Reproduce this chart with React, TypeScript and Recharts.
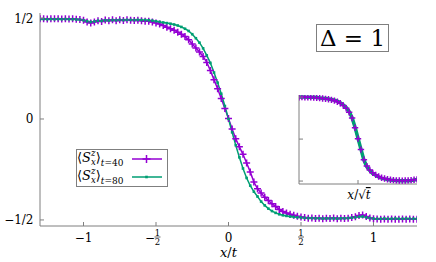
import React from "react";
import { LineChart, Line, XAxis, YAxis, Legend } from "recharts";

const PURPLE = "#9400d3";
const GREEN = "#009e73";
const AXIS = "#7f7f7f";
const SERIF = "'DejaVu Serif', serif";
const TXT: React.CSSProperties = { fontFamily: SERIF };

// main panel: x/t on a 1/40 lattice step
const mainStart = -1.3;
const mainStep = 0.025;

const sz40 = [
  0.496, 0.497, 0.495, 0.497, 0.496, 0.497, 0.495, 0.496, 0.495, 0.496,
  0.494, 0.493, 0.489, 0.481, 0.476, 0.48, 0.487, 0.483, 0.49, 0.486,
  0.491, 0.487, 0.492, 0.488, 0.491, 0.489, 0.488, 0.489, 0.486, 0.484,
  0.484, 0.48, 0.476, 0.47, 0.463, 0.455, 0.447, 0.44, 0.43, 0.42,
  0.408, 0.392, 0.372, 0.352, 0.332, 0.31, 0.28, 0.24, 0.195, 0.15,
  0.102, 0.052, 0.002, -0.05, -0.098, -0.138, -0.175, -0.218, -0.262, -0.312,
  -0.345, -0.367, -0.387, -0.404, -0.42, -0.433, -0.448, -0.458, -0.466, -0.472,
  -0.477, -0.482, -0.485, -0.488, -0.491, -0.49, -0.493, -0.491, -0.494, -0.492,
  -0.493, -0.49, -0.494, -0.492, -0.493, -0.491, -0.488, -0.484, -0.478, -0.476,
  -0.483, -0.49, -0.494, -0.495, -0.496, -0.495, -0.496, -0.495, -0.496, -0.496,
  -0.495, -0.496, -0.495, -0.496, -0.496,
];

const sz80 = [
  0.494, 0.495, 0.494, 0.495, 0.494, 0.495, 0.494, 0.495, 0.494, 0.494,
  0.493, 0.492, 0.489, 0.484, 0.481, 0.483, 0.487, 0.486, 0.489, 0.488,
  0.49, 0.489, 0.491, 0.49, 0.491, 0.491, 0.49, 0.491, 0.49, 0.49,
  0.489, 0.487, 0.484, 0.481, 0.478, 0.475, 0.472, 0.468, 0.463, 0.456,
  0.447, 0.436, 0.42, 0.4, 0.378, 0.35, 0.315, 0.278, 0.23, 0.18,
  0.125, 0.064, 0.0, -0.066, -0.13, -0.19, -0.245, -0.292, -0.33, -0.36,
  -0.384, -0.409, -0.428, -0.444, -0.456, -0.465, -0.472, -0.477, -0.48, -0.483,
  -0.485, -0.487, -0.488, -0.49, -0.491, -0.491, -0.492, -0.492, -0.493, -0.492,
  -0.493, -0.492, -0.493, -0.492, -0.492, -0.491, -0.489, -0.487, -0.484, -0.483,
  -0.487, -0.491, -0.493, -0.494, -0.494, -0.493, -0.494, -0.494, -0.493, -0.494,
  -0.494, -0.493, -0.494, -0.494, -0.494,
];

// inset: x/sqrt(t)
const insetStart = -4;
const insetStep = 0.2;

const inset40 = [
  0.498, 0.5, 0.499, 0.497, 0.497, 0.495, 0.492, 0.488, 0.484, 0.479,
  0.474, 0.467, 0.458, 0.445, 0.426, 0.4, 0.366, 0.32, 0.25, 0.135,
  0.005, -0.125, -0.245, -0.322, -0.368, -0.402, -0.426, -0.446, -0.46, -0.47,
  -0.478, -0.484, -0.489, -0.492, -0.494, -0.495, -0.494, -0.492, -0.489, -0.485,
  -0.48,
];

const inset80 = [
  0.5, 0.502, 0.5, 0.499, 0.498, 0.497, 0.494, 0.49, 0.486, 0.482,
  0.478, 0.472, 0.464, 0.452, 0.434, 0.408, 0.376, 0.33, 0.255, 0.14,
  0.01, -0.12, -0.25, -0.33, -0.375, -0.41, -0.432, -0.452, -0.465, -0.474,
  -0.481, -0.487, -0.491, -0.494, -0.496, -0.497, -0.497, -0.495, -0.492, -0.488,
  -0.482,
];

const xTicks = [-1, -0.5, 0, 0.5, 1];
const yTicks = [-0.5, 0, 0.5];
const yTickText: Record<string, string> = { "-0.5": "\u22121/2", "0": "0", "0.5": "1/2" };

const mainData = sz40.map((v, i) => ({ x: mainStart + i * mainStep, p: v, g: sz80[i] }));
const insetData = inset40.map((v, i) => ({ u: insetStart + i * insetStep, p: v, g: inset80[i] }));

const plusDot = (size: number) => (props: any) => {
  const { cx, cy, index } = props;
  if (cx == null || cy == null) return <g key={index} />;
  return (
    <path
      key={index}
      d={`M${cx - size},${cy}h${2 * size}M${cx},${cy - size}v${2 * size}`}
      stroke={PURPLE}
      strokeWidth={1.5}
      fill="none"
    />
  );
};

const squareDot = (props: any) => {
  const { cx, cy, index } = props;
  if (cx == null || cy == null) return <g key={index} />;
  return <rect key={index} x={cx - 1.3} y={cy - 1.3} width={2.6} height={2.6} fill={GREEN} />;
};

function BottomTick({ x, y, payload, bare }: any) {
  const v = payload.value;
  let label: React.ReactNode = null;
  if (!bare) {
    if (Math.abs(v) === 0.5) {
      const fx = x + (v < 0 ? 1.5 : 0);
      label = (
        <g fill="#000">
          {v < 0 && (
            <text x={x - 6} y={y + 15.5} fontSize={12} textAnchor="middle" style={TXT}>
              {"\u2212"}
            </text>
          )}
          <text x={fx} y={y + 9.5} fontSize={8.5} textAnchor="middle" style={TXT}>1</text>
          <line x1={fx - 3} x2={fx + 3} y1={y + 11} y2={y + 11} stroke="#000" strokeWidth={0.6} />
          <text x={fx} y={y + 19} fontSize={8.5} textAnchor="middle" style={TXT}>2</text>
        </g>
      );
    } else {
      label = (
        <text x={x} y={y + 15.5} fontSize={12} style={TXT} textAnchor="middle" fill="#000">
          {v < 0 ? `\u2212${-v}` : `${v}`}
        </text>
      );
    }
  }
  return (
    <g>
      <line x1={x} x2={x} y1={y} y2={y - 4} stroke={AXIS} />
      {label}
    </g>
  );
}

function TopTick({ x, y }: any) {
  return <line x1={x} x2={x} y1={y} y2={y + 4} stroke={AXIS} />;
}

function LeftTick({ x, y, payload, bare }: any) {
  return (
    <g>
      <line x1={x} x2={x + 4} y1={y} y2={y} stroke={AXIS} />
      {!bare && (
        <text x={x - 6.5} y={y + 4.5} fontSize={12} style={TXT} textAnchor="end" fill="#000">
          {yTickText[String(payload.value)]}
        </text>
      )}
    </g>
  );
}

function RightTick({ x, y }: any) {
  return <line x1={x} x2={x - 4} y1={y} y2={y} stroke={AXIS} />;
}

function KeyRow({ y, t, dot }: { y: number; t: string; dot: React.ReactNode }) {
  return (
    <g>
      <text x={1} y={y + 2} style={TXT} fontSize={13} fill="#000">
        {"\u27e8"}
        <tspan fontStyle="italic">S</tspan>
        <tspan fontSize={8.5} fontStyle="italic" dy={-6}>z</tspan>
        <tspan fontSize={8.5} fontStyle="italic" dx={-4.5} dy={9}>x</tspan>
        <tspan dy={-3}>{"\u27e9"}</tspan>
        <tspan fontSize={9} dy={4}>
          <tspan fontStyle="italic">t</tspan>
          {`=${t}`}
        </tspan>
      </text>
      {dot}
    </g>
  );
}

function SeriesKey() {
  return (
    <svg width={92} height={38} style={{ display: "block" }}>
      <rect x={0.5} y={0.5} width={91} height={37} fill="#fff" stroke={AXIS} />
      <KeyRow
        y={11}
        t="40"
        dot={
          <g>
            <line x1={56} x2={86} y1={10} y2={10} stroke={PURPLE} strokeWidth={1.5} />
            <path d="M70.5,6v8M66.5,10h8" stroke={PURPLE} strokeWidth={1.5} />
          </g>
        }
      />
      <KeyRow
        y={29}
        t="80"
        dot={
          <g>
            <line x1={56} x2={86} y1={28} y2={28} stroke={GREEN} strokeWidth={1.5} />
            <rect x={69.2} y={26.7} width={2.6} height={2.6} fill={GREEN} />
          </g>
        }
      />
    </svg>
  );
}

const mainXLabel = (props: any) => {
  const vb = props.viewBox;
  return (
    <text x={vb.x + vb.width / 2} y={vb.y + 31} textAnchor="middle" style={TXT} fontSize={13} fill="#000">
      <tspan fontStyle="italic">x</tspan>/<tspan fontStyle="italic">t</tspan>
    </text>
  );
};

const insetXLabel = (props: any) => {
  const vb = props.viewBox;
  return (
    <text x={vb.x + vb.width / 2 + 1} y={vb.y + 15} textAnchor="middle" style={TXT} fontSize={12} fill="#000">
      <tspan fontStyle="italic">x</tspan>/{"\u221a"}
      <tspan fontStyle="italic" style={{ textDecoration: "overline" }}>t</tspan>
    </text>
  );
};

export default function App() {
  return (
    <div style={{ position: "fixed", left: 0, top: 0, width: 436, height: 262, background: "#fff" }}>
      <LineChart width={436} height={262} data={mainData} margin={{ top: 13, right: 19, bottom: 0, left: 0 }}>
        <XAxis
          dataKey="x"
          type="number"
          domain={[-1.3, 1.3]}
          ticks={xTicks}
          interval={0}
          allowDataOverflow
          height={36}
          tickSize={0}
          tickMargin={0}
          tickLine={false}
          axisLine={{ stroke: AXIS }}
          tick={(p: any) => <BottomTick {...p} />}
          label={mainXLabel}
        />
        <XAxis
          xAxisId="top"
          orientation="top"
          dataKey="x"
          type="number"
          domain={[-1.3, 1.3]}
          ticks={xTicks}
          interval={0}
          allowDataOverflow
          height={0}
          tickSize={0}
          tickMargin={0}
          tickLine={false}
          axisLine={{ stroke: AXIS }}
          tick={(p: any) => <TopTick {...p} />}
        />
        <YAxis
          type="number"
          domain={[-0.53, 0.525]}
          ticks={yTicks}
          interval={0}
          allowDataOverflow
          width={40}
          tickSize={0}
          tickMargin={0}
          tickLine={false}
          axisLine={{ stroke: AXIS }}
          tick={(p: any) => <LeftTick {...p} />}
        />
        <YAxis
          yAxisId="right"
          orientation="right"
          type="number"
          domain={[-0.53, 0.525]}
          ticks={yTicks}
          interval={0}
          allowDataOverflow
          width={0}
          tickSize={0}
          tickMargin={0}
          tickLine={false}
          axisLine={{ stroke: AXIS }}
          tick={(p: any) => <RightTick {...p} />}
        />
        <Legend
          layout="vertical"
          align="center"
          verticalAlign="middle"
          wrapperStyle={{ left: 76, top: 149, width: 92, height: 38 }}
          content={() => <SeriesKey />}
        />
        <Line
          type="linear"
          dataKey="p"
          stroke={PURPLE}
          strokeWidth={1.5}
          dot={plusDot(3.5)}
          activeDot={false}
          isAnimationActive={false}
        />
        <Line
          type="linear"
          dataKey="g"
          stroke={GREEN}
          strokeWidth={1.5}
          dot={squareDot}
          activeDot={false}
          isAnimationActive={false}
        />
      </LineChart>

      <div style={{ position: "absolute", left: 287, top: 89 }}>
        <LineChart width={142} height={120} data={insetData} margin={{ top: 6, right: 12, bottom: 0, left: 0 }}>
          <XAxis
            dataKey="u"
            type="number"
            domain={[-4, 4]}
            ticks={[0]}
            interval={0}
            allowDataOverflow
            height={25}
            tickSize={0}
            tickMargin={0}
            tickLine={false}
            axisLine={{ stroke: AXIS }}
            tick={(p: any) => <BottomTick {...p} bare />}
            label={insetXLabel}
          />
          <XAxis
            xAxisId="top"
            orientation="top"
            dataKey="u"
            type="number"
            domain={[-4, 4]}
            ticks={[0]}
            interval={0}
            allowDataOverflow
            height={0}
            tickSize={0}
            tickMargin={0}
            tickLine={false}
            axisLine={{ stroke: AXIS }}
            tick={(p: any) => <TopTick {...p} />}
          />
          <YAxis
            type="number"
            domain={[-0.535, 0.525]}
            ticks={yTicks}
            interval={0}
            allowDataOverflow
            width={12}
            tickSize={0}
            tickMargin={0}
            tickLine={false}
            axisLine={{ stroke: AXIS }}
            tick={(p: any) => <LeftTick {...p} bare />}
          />
          <YAxis
            yAxisId="right"
            orientation="right"
            type="number"
            domain={[-0.535, 0.525]}
            ticks={yTicks}
            interval={0}
            allowDataOverflow
            width={0}
            tickSize={0}
            tickMargin={0}
            tickLine={false}
            axisLine={{ stroke: AXIS }}
            tick={(p: any) => <RightTick {...p} />}
          />
          <Line
            type="linear"
            dataKey="p"
            stroke={PURPLE}
            strokeWidth={2}
            dot={plusDot(3.2)}
            activeDot={false}
            isAnimationActive={false}
          />
          <Line
            type="linear"
            dataKey="g"
            stroke={GREEN}
            strokeWidth={3.5}
            dot={false}
            activeDot={false}
            isAnimationActive={false}
          />
        </LineChart>
      </div>

      <svg width={436} height={262} style={{ position: "absolute", left: 0, top: 0, pointerEvents: "none" }}>
        <rect x={316.5} y={24.5} width={72} height={27} fill="#fff" stroke={AXIS} />
        <text x={352.5} y={46} textAnchor="middle" style={TXT} fontSize={23} fill="#000">
          {"\u0394 = 1"}
        </text>
      </svg>
    </div>
  );
}
